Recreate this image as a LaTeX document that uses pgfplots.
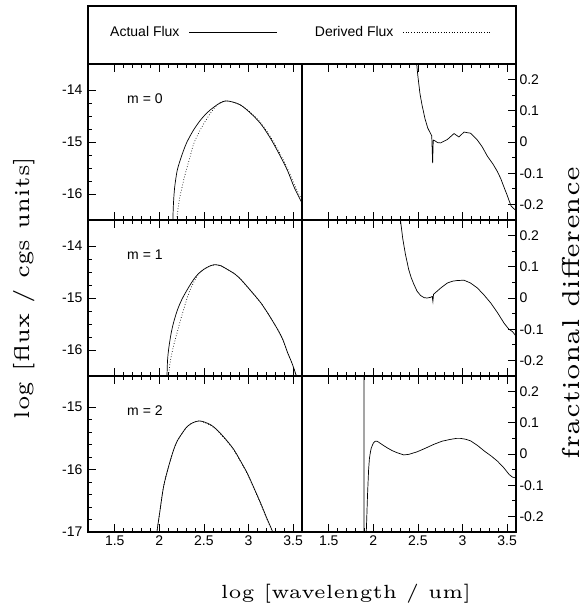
\documentclass[border=0pt]{standalone}
\usepackage{fontspec}
\usepackage{graphicx}
\usepackage{pgfplots}
\pgfplotsset{compat=1.18}
\newfontfamily\lsans{Liberation Sans}
\newcommand{\tickfont}{\lsans\fontsize{14}{16}\selectfont}
\newcommand{\labtext}[2]{\resizebox{#1}{!}{\fontsize{5}{6}\selectfont #2}}

\pgfplotsset{
  panel/.style={
    width=214pt, height=156pt, scale only axis,
    anchor=south west,
    xmin=1.2, xmax=3.6,
    xtick={1.5,2,2.5,3,3.5}, xticklabels={},
    minor x tick num=4,
    tick align=inside,
    major tick length=8pt, minor tick length=4pt,
    axis line style={line width=1.3pt},
    every tick/.style={black, line width=0.6pt},
    ticklabel style={font=\tickfont},
  },
  lpanel/.style={panel,
    ymin=-16.5, ymax=-13.5,
    ytick={-16,-15,-14}, yticklabels={-16,-15,-14},
    minor y tick num=3, ytick pos=left,
    yticklabel style={xshift=-2pt},
  },
  rpanel/.style={panel,
    ymin=-0.25, ymax=0.25,
    ytick={-0.2,-0.1,0,0.1,0.2}, yticklabels={-0.2,-0.1,0,0.1,0.2},
    minor y tick num=1, ytick pos=right, yticklabel pos=right,
  },
  actual/.style={black, line width=0.7pt},
  derived/.style={black, line width=0.7pt, dotted},
}

\begin{document}
\begin{tikzpicture}
\useasboundingbox (0,0) rectangle (585pt,605pt);

% ---- row 1 (m = 0)
\begin{axis}[lpanel, at={(88pt,385pt)}]
\addplot[derived, smooth] coordinates {
(2.19,-16.6) (2.20,-16.42) (2.225,-16.1) (2.255,-15.87) (2.28,-15.68) (2.311,-15.49)
(2.35,-15.25) (2.386,-15.03) (2.44,-14.83) (2.498,-14.65) (2.56,-14.48) (2.611,-14.36)
(2.66,-14.27) (2.743,-14.21) (2.82,-14.23) (2.912,-14.29) (3.02,-14.43) (3.137,-14.63)
(3.25,-14.91) (3.362,-15.25) (3.44,-15.52) (3.512,-15.81) (3.587,-16.08) (3.62,-16.2)};
\addplot[actual, smooth] coordinates {
(2.150,-16.6) (2.158,-16.2) (2.172,-15.87) (2.20,-15.55) (2.232,-15.36) (2.27,-15.17)
(2.31,-15.0) (2.38,-14.78) (2.461,-14.58) (2.54,-14.43) (2.611,-14.33) (2.68,-14.25)
(2.743,-14.21) (2.82,-14.23) (2.912,-14.29) (3.02,-14.44) (3.137,-14.65) (3.25,-14.94)
(3.362,-15.29) (3.44,-15.56) (3.512,-15.87) (3.587,-16.13) (3.62,-16.25)};
\node[font=\tickfont] at (rel axis cs:0.266,0.777) {m = 0};
\end{axis}

\begin{axis}[rpanel, at={(302pt,385pt)}]
\addplot[actual] coordinates {
(2.48,0.27) (2.486,0.25) (2.50,0.21) (2.523,0.155) (2.545,0.12) (2.579,0.075) (2.61,0.045)
(2.64,0.028) (2.655,0.02) (2.665,-0.068) (2.672,0.006) (2.69,0.004) (2.72,-0.002)
(2.754,-0.003) (2.83,0.008) (2.905,0.027) (2.96,0.016) (3.017,0.032) (3.05,0.03)
(3.092,0.028) (3.167,0.006) (3.22,-0.015) (3.28,-0.046) (3.34,-0.07) (3.39,-0.094)
(3.43,-0.118) (3.467,-0.146) (3.50,-0.17) (3.525,-0.19) (3.545,-0.205) (3.57,-0.212)
(3.6,-0.22)};
\end{axis}

% ---- row 2 (m = 1)
\begin{axis}[lpanel, at={(88pt,229pt)}]
\addplot[derived, smooth] coordinates {
(2.102,-16.6) (2.104,-16.49) (2.12,-16.25) (2.142,-16.05) (2.17,-15.85) (2.199,-15.67)
(2.235,-15.44) (2.273,-15.22) (2.31,-15.01) (2.349,-14.83) (2.40,-14.65) (2.44,-14.54)
(2.498,-14.45) (2.56,-14.39) (2.62,-14.36) (2.69,-14.38) (2.762,-14.45) (2.84,-14.53)
(2.912,-14.64) (3.02,-14.85) (3.137,-15.09) (3.23,-15.33) (3.325,-15.6) (3.385,-15.8)
(3.438,-16.05) (3.48,-16.22) (3.512,-16.37) (3.545,-16.55)};
\addplot[actual, smooth] coordinates {
(2.083,-16.6) (2.086,-16.49) (2.092,-16.2) (2.104,-15.99) (2.13,-15.7) (2.16,-15.47)
(2.205,-15.22) (2.255,-15.02) (2.32,-14.82) (2.386,-14.64) (2.44,-14.53) (2.498,-14.45)
(2.56,-14.39) (2.62,-14.36) (2.69,-14.38) (2.762,-14.45) (2.84,-14.53) (2.912,-14.64)
(3.02,-14.85) (3.137,-15.09) (3.23,-15.33) (3.325,-15.6) (3.385,-15.8) (3.438,-16.05)
(3.48,-16.22) (3.512,-16.37) (3.545,-16.55)};
\node[font=\tickfont] at (rel axis cs:0.266,0.777) {m = 1};
\end{axis}

\begin{axis}[rpanel, at={(302pt,229pt)}]
\addplot[actual] coordinates {
(2.29,0.3) (2.304,0.25) (2.33,0.19) (2.36,0.14) (2.397,0.091) (2.425,0.065) (2.453,0.045)
(2.49,0.022) (2.53,0.008) (2.57,0.001) (2.604,0.0) (2.64,0.002) (2.66,0.005)
(2.668,-0.011) (2.675,0.012) (2.70,0.018) (2.76,0.033) (2.83,0.048) (2.89,0.054)
(2.942,0.056) (3.017,0.057) (3.09,0.048) (3.167,0.032) (3.24,0.01) (3.317,-0.016)
(3.39,-0.046) (3.467,-0.081) (3.52,-0.1) (3.561,-0.108) (3.6,-0.122)};
\end{axis}

% ---- row 3 (m = 2)
\begin{axis}[lpanel, at={(88pt,73pt)},
  ymin=-17, ymax=-14.5,
  ytick={-17,-16,-15}, yticklabels={-17,-16,-15},
  minor y tick num=4,
  xticklabels={1.5,2,2.5,3,3.5}]
\addplot[derived, smooth] coordinates {
(1.970,-17.1) (1.974,-16.99) (2.003,-16.70) (2.048,-16.27) (2.104,-15.95) (2.161,-15.68)
(2.205,-15.53) (2.255,-15.42) (2.30,-15.33) (2.349,-15.27) (2.40,-15.235) (2.453,-15.22)
(2.51,-15.25) (2.574,-15.29) (2.63,-15.35) (2.686,-15.43) (2.76,-15.55) (2.836,-15.69)
(2.91,-15.87) (2.987,-16.07) (3.06,-16.30) (3.137,-16.55) (3.20,-16.77) (3.269,-17.0)
(3.28,-17.05)};
\addplot[actual, smooth] coordinates {
(1.970,-17.1) (1.974,-16.99) (2.003,-16.70) (2.048,-16.27) (2.104,-15.95) (2.161,-15.68)
(2.205,-15.53) (2.255,-15.42) (2.30,-15.33) (2.349,-15.27) (2.40,-15.235) (2.453,-15.22)
(2.51,-15.24) (2.574,-15.28) (2.63,-15.34) (2.686,-15.42) (2.76,-15.54) (2.836,-15.68)
(2.91,-15.86) (2.987,-16.06) (3.06,-16.29) (3.137,-16.54) (3.20,-16.76) (3.269,-16.99)
(3.28,-17.05)};
\node[font=\tickfont] at (rel axis cs:0.266,0.777) {m = 2};
\end{axis}

\begin{axis}[rpanel, at={(302pt,73pt)}, xticklabels={1.5,2,2.5,3,3.5}]
\addplot[actual] coordinates {
(1.896,0.3) (1.896,-0.3) (1.918,-0.3) (1.921,-0.25) (1.935,-0.13) (1.947,-0.05)
(1.956,-0.015) (1.966,0.004) (1.975,0.017) (1.985,0.025) (2.0,0.035) (2.022,0.041)
(2.04,0.041) (2.059,0.038) (2.1,0.03) (2.154,0.02) (2.21,0.011) (2.267,0.004) (2.31,0.0)
(2.341,-0.003) (2.40,-0.001) (2.491,0.007) (2.58,0.018) (2.679,0.031) (2.77,0.041)
(2.867,0.047) (2.93,0.05) (2.98,0.05) (3.04,0.047) (3.092,0.042) (3.17,0.027)
(3.242,0.01) (3.32,-0.006) (3.392,-0.023) (3.46,-0.043) (3.524,-0.066) (3.56,-0.074)
(3.6,-0.077)};
\end{axis}

% ---- key box on top
\draw[line width=1.2pt] (88pt,541pt) rectangle (516pt,599pt);
\node[font=\tickfont, anchor=base east] at (183pt,568.3pt) {Actual Flux};
\draw[line width=0.7pt] (189pt,572.7pt) -- (277pt,572.7pt);
\node[font=\tickfont, anchor=base east] at (397pt,568.3pt) {Derived Flux};
\draw[line width=0.7pt, dotted] (403pt,572.7pt) -- (492pt,572.7pt);

% ---- axis titles
\node[rotate=90, inner sep=0pt] at (24pt,317pt) {\labtext{263pt}{log [flux / cgs units]}};
\node[rotate=90, inner sep=0pt] at (571pt,292pt) {\labtext{292pt}{fractional difference}};
\node[inner sep=0pt] at (346pt,11pt) {\labtext{250pt}{log [wavelength / um]}};
\end{tikzpicture}
\end{document}
